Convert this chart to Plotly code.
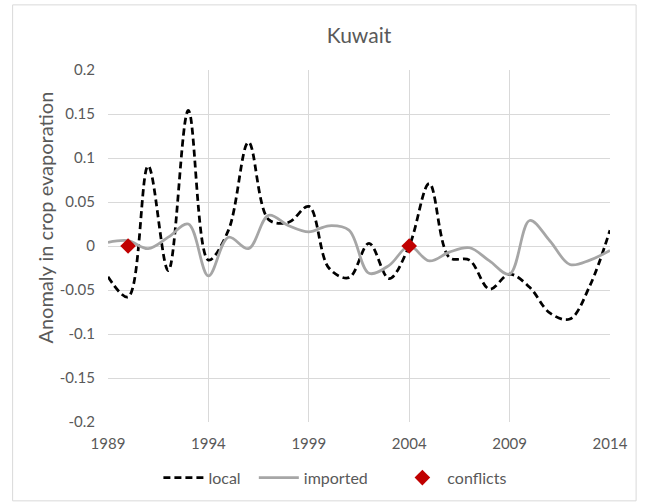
import plotly.graph_objects as go

years = list(range(1989, 2015))
local = [-0.035, -0.058, 0.091, -0.028, 0.154, -0.016, 0.018, 0.118, 0.030, 0.027,
         0.045, -0.025, -0.036, 0.003, -0.037, 0.0, 0.071, -0.013, -0.016, -0.049,
         -0.032, -0.047, -0.076, -0.083, -0.045, 0.018]
imported = [0.004, 0.006, -0.003, 0.010, 0.025, -0.034, 0.010, -0.003, 0.035, 0.023,
            0.016, 0.023, 0.018, -0.031, -0.022, 0.0, -0.017, -0.007, -0.002, -0.017,
            -0.032, 0.029, 0.006, -0.021, -0.016, -0.005]
conflict_years = [1990, 2004]
conflict_vals = [0, 0]

y_ticks = [0.2, 0.15, 0.1, 0.05, 0, -0.05, -0.1, -0.15, -0.2]
y_labels = ["0.2", "0.15", "0.1", "0.05", "0", "-0.05", "-0.1", "-0.15", "-0.2"]
x_ticks = [1989, 1994, 1999, 2004, 2009, 2014]

pad = "\u00a0"  # non-breaking spaces to spread the legend entries like the original

fig = go.Figure()
fig.add_trace(go.Scatter(x=years, y=local, mode="lines", name="local" + pad * 2,
                         line=dict(color="black", width=2.75, dash="7px,4px", shape="spline", smoothing=1)))
fig.add_trace(go.Scatter(x=years, y=imported, mode="lines", name="imported" + pad * 6,
                         line=dict(color="#a6a6a6", width=2.75, shape="spline", smoothing=1)))
fig.add_trace(go.Scatter(x=conflict_years, y=conflict_vals, mode="markers", name="conflicts",
                         marker=dict(symbol="diamond", color="#c00000", size=12)))

# light frame around the whole chart
fig.add_shape(type="rect", xref="paper", yref="paper", x0=-0.19, x1=1.052, y0=-0.224, y1=1.185,
              line=dict(color="#d9d9d9", width=1), layer="below")

# y axis title as annotation (sits a bit above the plot centre in the original)
fig.add_annotation(text="Anomaly in crop evaporation", xref="paper", yref="paper",
                   x=-0.126, y=0.58, xanchor="center", yanchor="middle", textangle=-90,
                   showarrow=False, font=dict(size=20, color="#595959"))

fig.update_layout(
    width=648, height=503,
    margin=dict(l=108, r=38, t=70, b=81, autoexpand=False),
    paper_bgcolor="white", plot_bgcolor="white",
    font=dict(family="Lato", size=15, color="#595959"),
    title=dict(text="Kuwait", x=0.5, xref="paper", y=0.93, yanchor="middle",
               font=dict(size=21, color="#595959")),
    xaxis=dict(range=[1989, 2014], tickvals=x_ticks, showgrid=True, gridcolor="#d9d9d9",
               zeroline=False, showline=False, ticks="outside", ticklen=8, tickcolor="rgba(0,0,0,0)"),
    yaxis=dict(range=[-0.2, 0.2], tickvals=y_ticks, ticktext=y_labels, showgrid=True,
               gridcolor="#d9d9d9", zeroline=False, showline=False, ticks="",
               ticklabelstandoff=12),
    legend=dict(orientation="h", x=0.452, xanchor="center", y=-0.11, yanchor="top",
                font=dict(size=16), itemwidth=40),
    showlegend=True,
)

fig.write_html("out.html", config={"displayModeBar": False},
               post_script="document.body.style.margin='0px';")
